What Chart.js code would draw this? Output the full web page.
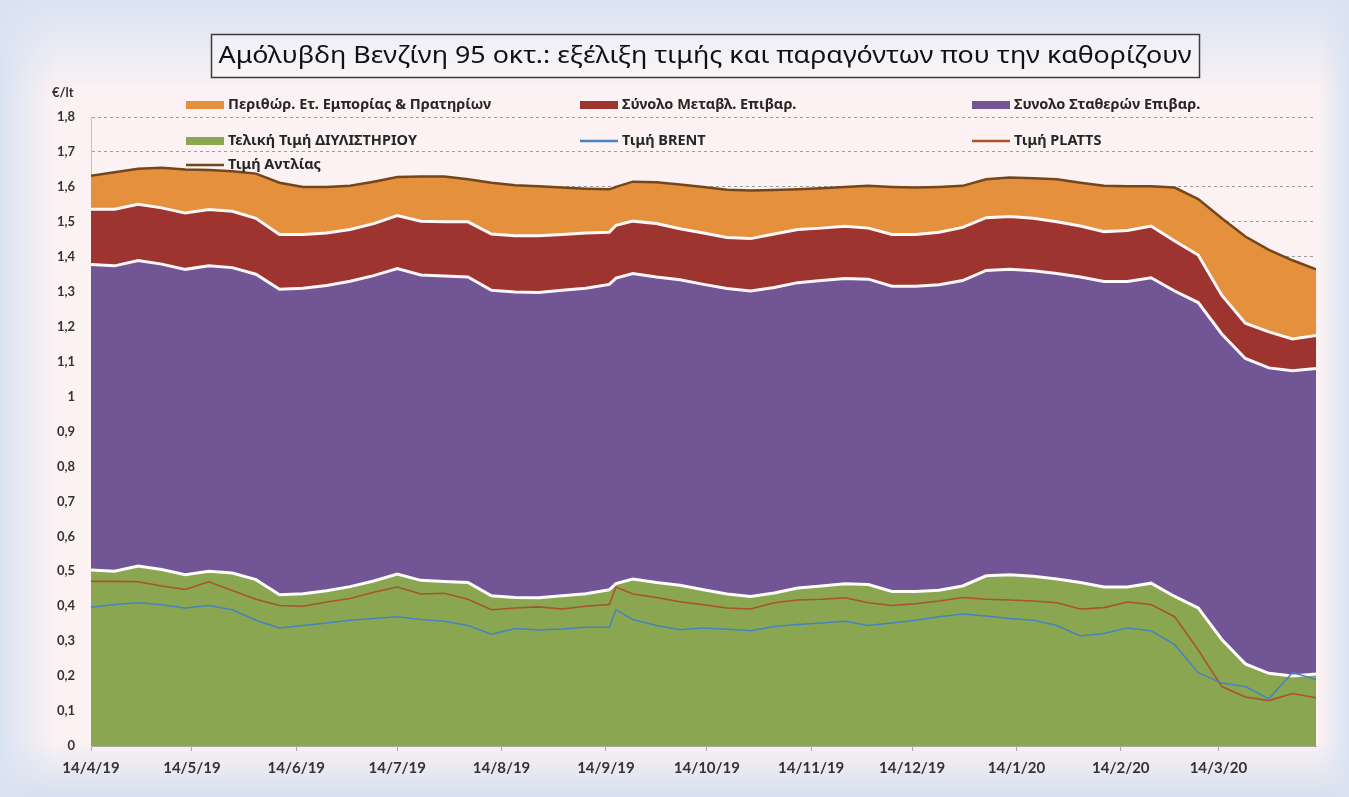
<!DOCTYPE html>
<html lang="el">
<head>
<meta charset="utf-8">
<script src="https://cdn.jsdelivr.net/npm/chart.js@4.4.1/dist/chart.umd.min.js"></script>
<style>
html,body{margin:0;padding:0;overflow:hidden;background:#dfe6f2;}
#box{position:relative;width:1349px;height:797px;}
canvas{display:block;}
</style>
</head>
<body>
<div id="box"><canvas id="chart" width="1349" height="797"></canvas></div>
<script>
// ---- DATA (€/lt), weekly readings ----
const dates = ["14/4/19","21/4/19","28/4/19","5/5/19","12/5/19","19/5/19","26/5/19","2/6/19","9/6/19","16/6/19",
  "23/6/19","30/6/19","7/7/19","14/7/19","21/7/19","28/7/19","4/8/19","11/8/19","18/8/19","25/8/19",
  "1/9/19","8/9/19","15/9/19","17/9/19","22/9/19","29/9/19","6/10/19","13/10/19","20/10/19","27/10/19",
  "3/11/19","10/11/19","17/11/19","24/11/19","1/12/19","8/12/19","15/12/19","22/12/19","29/12/19","5/1/20",
  "12/1/20","19/1/20","26/1/20","2/2/20","9/2/20","16/2/20","23/2/20","1/3/20","8/3/20","15/3/20",
  "22/3/20","29/3/20","5/4/20","12/4/20"];

const refineryPrice = [0.504,0.500,0.515,0.505,0.490,0.500,0.495,0.476,0.433,0.436,
  0.444,0.456,0.472,0.492,0.474,0.471,0.468,0.430,0.425,0.424,
  0.430,0.436,0.447,0.465,0.478,0.468,0.460,0.447,0.435,0.428,
  0.438,0.452,0.458,0.464,0.462,0.442,0.442,0.446,0.458,0.487,
  0.490,0.486,0.478,0.468,0.455,0.455,0.466,0.428,0.395,0.305,
  0.235,0.208,0.200,0.206];

const fixedCharges = [0.874,0.874,0.874,0.874,0.874,0.874,0.874,0.874,0.874,0.874,
  0.874,0.874,0.874,0.874,0.874,0.874,0.874,0.874,0.874,0.874,
  0.874,0.874,0.874,0.874,0.874,0.874,0.874,0.874,0.874,0.874,
  0.874,0.874,0.874,0.874,0.874,0.874,0.874,0.874,0.874,0.874,
  0.874,0.874,0.874,0.874,0.874,0.874,0.874,0.874,0.874,0.874,
  0.874,0.874,0.874,0.874];

const variableCharges = [0.158,0.162,0.161,0.161,0.161,0.161,0.161,0.160,0.157,0.154,
  0.150,0.148,0.149,0.152,0.154,0.155,0.158,0.161,0.161,0.162,
  0.160,0.158,0.149,0.151,0.150,0.153,0.146,0.147,0.146,0.150,
  0.153,0.152,0.150,0.149,0.146,0.148,0.148,0.150,0.152,0.151,
  0.151,0.150,0.148,0.146,0.143,0.146,0.148,0.143,0.136,0.111,
  0.101,0.103,0.091,0.095];

const retailMargin = [0.096,0.106,0.102,0.115,0.125,0.113,0.115,0.128,0.148,0.136,
  0.132,0.125,0.120,0.110,0.128,0.130,0.122,0.147,0.145,0.142,
  0.134,0.127,0.123,0.110,0.113,0.118,0.127,0.132,0.137,0.138,
  0.126,0.115,0.114,0.113,0.121,0.136,0.134,0.130,0.119,0.110,
  0.112,0.115,0.122,0.124,0.131,0.127,0.114,0.153,0.160,0.220,
  0.248,0.235,0.225,0.189];

const brentPrice = [0.397,0.405,0.410,0.404,0.395,0.402,0.390,0.360,0.338,0.345,
  0.352,0.360,0.365,0.370,0.362,0.357,0.345,0.320,0.336,0.332,
  0.335,0.340,0.340,0.390,0.362,0.345,0.333,0.338,0.334,0.330,
  0.342,0.348,0.352,0.357,0.345,0.352,0.360,0.370,0.378,0.372,
  0.365,0.360,0.345,0.315,0.322,0.338,0.330,0.290,0.210,0.180,
  0.170,0.135,0.210,0.190];

const plattsPrice = [0.471,0.471,0.470,0.458,0.448,0.470,0.445,0.420,0.402,0.400,
  0.412,0.422,0.440,0.455,0.435,0.437,0.420,0.390,0.395,0.398,
  0.392,0.400,0.405,0.455,0.435,0.425,0.413,0.404,0.395,0.392,
  0.410,0.418,0.420,0.424,0.410,0.402,0.407,0.415,0.425,0.420,
  0.418,0.415,0.410,0.392,0.396,0.412,0.405,0.370,0.275,0.170,
  0.140,0.130,0.150,0.138];

const pumpPrice = [1.632,1.642,1.652,1.655,1.650,1.648,1.645,1.638,1.612,1.600,
  1.600,1.603,1.615,1.628,1.630,1.630,1.622,1.612,1.605,1.602,
  1.598,1.595,1.593,1.600,1.615,1.613,1.607,1.600,1.592,1.590,
  1.591,1.593,1.596,1.600,1.603,1.600,1.598,1.600,1.603,1.622,
  1.627,1.625,1.622,1.612,1.603,1.602,1.602,1.598,1.565,1.510,
  1.458,1.420,1.390,1.364];

const tickDates = ["14/4/19","14/5/19","14/6/19","14/7/19","14/8/19","14/9/19",
  "14/10/19","14/11/19","14/12/19","14/1/20","14/2/20","14/3/20"];

const seriesNames = {
  margin: "Περιθώρ. Ετ. Εμπορίας & Πρατηρίων",
  variable: "Σύνολο Μεταβλ. Επιβαρ.",
  fixed: "Συνολο Σταθερών Επιβαρ.",
  refinery: "Τελική Τιμή ΔΙΥΛΙΣΤΗΡΙΟΥ",
  brent: "Τιμή BRENT",
  platts: "Τιμή PLATTS",
  pump: "Τιμή Αντλίας"
};
const chartTitle = "Αμόλυβδη Βενζίνη 95 οκτ.: εξέλιξη τιμής και παραγόντων που την καθορίζουν";
const unitLabel = "€/lt";

// ---- helpers ----
const BASE = Date.UTC(2019, 3, 14);
const toDay = s => { const p = s.split('/').map(Number); return Math.round((Date.UTC(2000 + p[2], p[1] - 1, p[0]) - BASE) / 86400000); };
const xs = dates.map(toDay);
const tickDays = tickDates.map(toDay);
const pts = arr => arr.map((v, i) => ({x: xs[i], y: v}));

const C = {
  orange: '#e5903c', red: '#9d3430', purple: '#725594', green: '#8aa650',
  blue: '#4583c0', platts: '#a9532c', pump: '#74461b'
};

const bgPlugin = {
  id: 'bg',
  beforeDraw(chart) {
    const {ctx, width, height} = chart;
    ctx.save();
    ctx.fillStyle = '#fcf2f3';
    ctx.fillRect(0, 0, width, height);
    let g = ctx.createLinearGradient(0, 0, 0, 95);
    g.addColorStop(0, 'rgba(218,227,242,1)'); g.addColorStop(1, 'rgba(218,227,242,0)');
    ctx.fillStyle = g; ctx.fillRect(0, 0, width, 95);
    g = ctx.createLinearGradient(0, 740, 0, height);
    g.addColorStop(0, 'rgba(214,224,240,0)'); g.addColorStop(1, 'rgba(214,224,240,1)');
    ctx.fillStyle = g; ctx.fillRect(0, 740, width, height - 740);
    g = ctx.createLinearGradient(0, 0, 55, 0);
    g.addColorStop(0, 'rgba(218,227,242,1)'); g.addColorStop(1, 'rgba(218,227,242,0)');
    ctx.fillStyle = g; ctx.fillRect(0, 0, 55, height);
    g = ctx.createLinearGradient(1318, 0, width, 0);
    g.addColorStop(0, 'rgba(218,227,242,0)'); g.addColorStop(1, 'rgba(218,227,242,1)');
    ctx.fillStyle = g; ctx.fillRect(1318, 0, width - 1318, height);
    ctx.restore();
  }
};

const decorPlugin = {
  id: 'decor',
  afterDraw(chart) {
    const ctx = chart.ctx;
    ctx.save();
    // title box
    ctx.fillStyle = 'rgba(255,255,255,0.35)';
    ctx.fillRect(211, 34, 988, 43);
    ctx.strokeStyle = '#3c3c3c'; ctx.lineWidth = 1.5;
    ctx.strokeRect(211.5, 34.5, 988, 43);
    ctx.font = '23px "Noto Sans"';
    const tw = ctx.measureText(chartTitle).width;
    ctx.save();
    ctx.translate(705, 56);
    ctx.scale(973 / tw, 1);
    ctx.textAlign = 'center'; ctx.textBaseline = 'middle'; ctx.fillStyle = '#111';
    ctx.fillText(chartTitle, 0, 0);
    ctx.restore();
    // unit label
    ctx.font = 'bold 13px Lato, "Noto Sans"';
    ctx.fillStyle = '#333'; ctx.textAlign = 'left'; ctx.textBaseline = 'middle';
    ctx.fillText(unitLabel, 52, 93);
    // legend
    const items = [
      {t: seriesNames.margin, c: C.orange, k: 'box', x: 186, y: 105},
      {t: seriesNames.variable, c: C.red, k: 'box', x: 580, y: 105},
      {t: seriesNames.fixed, c: C.purple, k: 'box', x: 972, y: 105},
      {t: seriesNames.refinery, c: C.green, k: 'box', x: 186, y: 141},
      {t: seriesNames.brent, c: C.blue, k: 'line', x: 580, y: 141},
      {t: seriesNames.platts, c: C.platts, k: 'line', x: 972, y: 141},
      {t: seriesNames.pump, c: C.pump, k: 'line', x: 186, y: 165}
    ];
    ctx.font = 'bold 14.5px "Noto Sans"';
    items.forEach(it => {
      if (it.k === 'box') { ctx.fillStyle = it.c; ctx.fillRect(it.x, it.y - 4, 38, 8); }
      else { ctx.strokeStyle = it.c; ctx.lineWidth = 2.5; ctx.beginPath(); ctx.moveTo(it.x, it.y); ctx.lineTo(it.x + 38, it.y); ctx.stroke(); }
      ctx.fillStyle = '#262626'; ctx.textAlign = 'left'; ctx.textBaseline = 'middle';
      ctx.fillText(it.t, it.x + 42, it.y);
    });
    ctx.restore();
  }
};

const areaDefaults = {pointRadius: 0, tension: 0, stack: 'total', order: 1};

new Chart(document.getElementById('chart'), {
  type: 'line',
  data: {
    datasets: [
      Object.assign({label: seriesNames.refinery, data: pts(refineryPrice), backgroundColor: C.green, borderColor: '#fdfbfb', borderWidth: 3, fill: 'origin'}, areaDefaults),
      Object.assign({label: seriesNames.fixed, data: pts(fixedCharges), backgroundColor: C.purple, borderColor: '#fdf7f8', borderWidth: 3, fill: '-1'}, areaDefaults),
      Object.assign({label: seriesNames.variable, data: pts(variableCharges), backgroundColor: C.red, borderColor: '#fdf7f8', borderWidth: 3, fill: '-1'}, areaDefaults),
      Object.assign({label: seriesNames.margin, data: pts(retailMargin), backgroundColor: C.orange, borderColor: 'rgba(0,0,0,0)', borderWidth: 0, fill: '-1'}, areaDefaults),
      {label: seriesNames.brent, data: pts(brentPrice), borderColor: C.blue, borderWidth: 1.5, fill: false, pointRadius: 0, tension: 0, stack: 'brent', order: 0},
      {label: seriesNames.platts, data: pts(plattsPrice), borderColor: C.platts, borderWidth: 1.6, fill: false, pointRadius: 0, tension: 0, stack: 'platts', order: 0},
      {label: seriesNames.pump, data: pts(pumpPrice), borderColor: C.pump, borderWidth: 2.5, fill: false, pointRadius: 0, tension: 0, stack: 'pump', order: 0}
    ]
  },
  options: {
    responsive: false,
    animation: false,
    devicePixelRatio: 1,
    layout: {padding: {left: 0, top: 117, right: 33, bottom: 0}},
    plugins: {legend: {display: false}, title: {display: false}, tooltip: {enabled: false}},
    scales: {
      x: {
        type: 'linear', min: 0, max: 364,
        afterBuildTicks: s => { s.ticks = tickDays.map(v => ({value: v})); },
        afterFit: s => { s.height = 51; },
        grid: {drawOnChartArea: false, drawTicks: true, tickLength: 5, color: '#a8a8a8'},
        border: {display: true, color: '#a8a8a8'},
        ticks: {autoSkip: false, maxRotation: 0, minRotation: 0, padding: 8, color: '#333',
          font: {family: 'Lato, "Noto Sans"', size: 15, weight: 'bold'},
          callback: (v, i) => tickDates[i]}
      },
      y: {
        stacked: true, min: 0, max: 1.8,
        afterFit: s => { s.width = 91; },
        ticks: {stepSize: 0.1, padding: 16, color: '#333',
          font: {family: 'Lato, "Noto Sans"', size: 13, weight: 'bold'},
          callback: v => { const r = Math.round(v * 10) / 10; return String(r).replace('.', ','); }},
        grid: {color: '#9c9c9c', lineWidth: 1, drawTicks: false},
        border: {display: true, color: '#c4c4c4', dash: [3, 3]}
      }
    }
  },
  plugins: [bgPlugin, decorPlugin]
});
</script>
</body>
</html>
